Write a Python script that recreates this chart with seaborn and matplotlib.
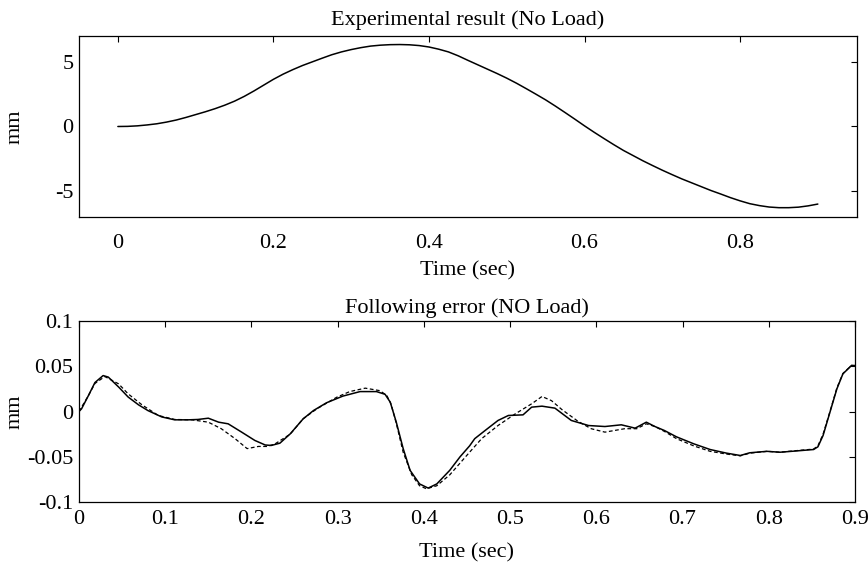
import matplotlib
matplotlib.use("Agg")
import matplotlib.pyplot as plt
import seaborn as sns
import pandas as pd

# ---------------- data ----------------
top_t = [0, 0.0125, 0.025, 0.0375, 0.05, 0.0625, 0.075, 0.0875, 0.1, 0.1125, 0.125, 0.1375,
         0.15, 0.1625, 0.175, 0.1875, 0.2, 0.2125, 0.225, 0.2375, 0.25, 0.2625, 0.275, 0.2875,
         0.3, 0.3125, 0.325, 0.3375, 0.35, 0.3625, 0.375, 0.3875, 0.4, 0.4125, 0.425, 0.4375,
         0.45, 0.4625, 0.475, 0.4875, 0.5, 0.5125, 0.525, 0.5375, 0.55, 0.5625, 0.575, 0.5875,
         0.6, 0.6125, 0.625, 0.6375, 0.65, 0.6625, 0.675, 0.6875, 0.7, 0.7125, 0.725, 0.7375,
         0.75, 0.7625, 0.775, 0.7875, 0.8, 0.8125, 0.825, 0.8375, 0.85, 0.8625, 0.875, 0.8875, 0.9]
top_mm = [0, 0.01, 0.05, 0.12, 0.21, 0.34, 0.5, 0.7, 0.92, 1.14, 1.38, 1.65,
          1.96, 2.33, 2.75, 3.2, 3.65, 4.05, 4.4, 4.72, 5.0, 5.28, 5.55, 5.77,
          5.95, 6.1, 6.22, 6.29, 6.33, 6.34, 6.32, 6.26, 6.15, 5.98, 5.77, 5.47,
          5.12, 4.78, 4.44, 4.1, 3.74, 3.35, 2.93, 2.5, 2.06, 1.58, 1.08, 0.57,
          0.05, -0.45, -0.93, -1.4, -1.85, -2.25, -2.65, -3.02, -3.38, -3.72, -4.05, -4.35,
          -4.65, -4.95, -5.22, -5.5, -5.75, -5.97, -6.12, -6.23, -6.28, -6.28, -6.24, -6.14, -6.0]

solid_t = [0, 0.003, 0.011, 0.0185, 0.028, 0.034, 0.046, 0.057, 0.069, 0.08, 0.096,
           0.111, 0.127, 0.138, 0.15, 0.162, 0.173, 0.189, 0.204, 0.216, 0.223, 0.233,
           0.245, 0.26, 0.272, 0.287, 0.306, 0.326, 0.345, 0.355, 0.361, 0.368, 0.376,
           0.384, 0.395, 0.405, 0.415, 0.43, 0.442, 0.453, 0.459, 0.471, 0.486, 0.498,
           0.515, 0.525, 0.537, 0.552, 0.571, 0.591, 0.61, 0.629, 0.645, 0.658, 0.668,
           0.679, 0.693, 0.713, 0.732, 0.751, 0.767, 0.778, 0.798, 0.813, 0.829, 0.852,
           0.857, 0.863, 0.871, 0.879, 0.886, 0.896, 0.9]
solid_err = [0, 0.003, 0.0177, 0.032, 0.0397, 0.038, 0.027, 0.016, 0.0074, 0.001, -0.006,
             -0.0092, -0.0092, -0.0088, -0.0074, -0.0118, -0.0136, -0.023, -0.032, -0.037, -0.0375, -0.035,
             -0.0247, -0.0081, 0.0011, 0.0096, 0.017, 0.022, 0.022, 0.019, 0.0103, -0.0118, -0.041,
             -0.065, -0.080, -0.0846, -0.080, -0.065, -0.050, -0.038, -0.030, -0.021, -0.0099, -0.0044,
             -0.0037, 0.0048, 0.0059, 0.0037, -0.0099, -0.0155, -0.0166, -0.0147, -0.0184, -0.0118, -0.0166,
             -0.021, -0.028, -0.0357, -0.042, -0.046, -0.0486, -0.0456, -0.044, -0.045, -0.0438, -0.042,
             -0.039, -0.0265, -0.0007, 0.025, 0.0416, 0.0508, 0.0508]

dash_t = [0, 0.011, 0.0185, 0.03, 0.046, 0.057, 0.073, 0.092, 0.111, 0.131, 0.15, 0.165,
          0.181, 0.195, 0.208, 0.218, 0.227, 0.245, 0.26, 0.276, 0.299, 0.314, 0.332, 0.349,
          0.357, 0.362, 0.368, 0.376, 0.386, 0.395, 0.403, 0.415, 0.43, 0.453, 0.467, 0.486,
          0.506, 0.525, 0.537, 0.548, 0.56, 0.579, 0.594, 0.61, 0.633, 0.647, 0.658, 0.668,
          0.679, 0.693, 0.713, 0.732, 0.751, 0.767, 0.778, 0.798, 0.813, 0.829, 0.852, 0.857,
          0.863, 0.871, 0.879, 0.886, 0.896, 0.9]
dash_err = [0, 0.0177, 0.031, 0.0386, 0.0305, 0.0195, 0.0074, -0.0044, -0.0088, -0.0092, -0.0118, -0.019,
            -0.030, -0.041, -0.0386, -0.0386, -0.036, -0.025, -0.008, 0.003, 0.0158, 0.022, 0.0258, 0.023,
            0.0177, 0.008, -0.013, -0.045, -0.070, -0.082, -0.0854, -0.082, -0.07, -0.045, -0.030, -0.0155,
            -0.0026, 0.0085, 0.0166, 0.012, 0.0022, -0.011, -0.019, -0.0228, -0.019, -0.019, -0.0136, -0.0166,
            -0.022, -0.030, -0.038, -0.044, -0.047, -0.049, -0.046, -0.044, -0.045, -0.0435, -0.0415, -0.038,
            -0.025, 0.0, 0.026, 0.042, 0.051, 0.0505]

top_xticks = [0, 0.2, 0.4, 0.6, 0.8]
top_xlabels = ["0", "0.2", "0.4", "0.6", "0.8"]
top_yticks = [-5, 0, 5]
top_ylabels = ["-5", "0", "5"]
bot_xticks = [0, 0.1, 0.2, 0.3, 0.4, 0.5, 0.6, 0.7, 0.8, 0.9]
bot_xlabels = ["0", "0.1", "0.2", "0.3", "0.4", "0.5", "0.6", "0.7", "0.8", "0.9"]
bot_yticks = [-0.1, -0.05, 0, 0.05, 0.1]
bot_ylabels = ["-0.1", "-0.05", "0", "0.05", "0.1"]

# ---------------- style ----------------
sns.set_theme(style="white")
plt.rcParams["font.family"] = ["Liberation Serif", "DejaVu Serif"]
plt.rcParams["axes.unicode_minus"] = False
FS = 16

fig = plt.figure(figsize=(8.68, 5.67), dpi=100)
ax1 = fig.add_axes([0.091, 0.6173, 0.896, 0.3192])
ax2 = fig.add_axes([0.091, 0.1146, 0.894, 0.3193])

df_top = pd.DataFrame({"t": top_t, "mm": top_mm})
sns.lineplot(data=df_top, x="t", y="mm", ax=ax1, color="black", linewidth=1.1)

df_s = pd.DataFrame({"t": solid_t, "e": solid_err})
df_d = pd.DataFrame({"t": dash_t, "e": dash_err})
sns.lineplot(data=df_s, x="t", y="e", ax=ax2, color="black", linewidth=1.1)
sns.lineplot(data=df_d, x="t", y="e", ax=ax2, color="black", linewidth=0.9,
             linestyle=(0, (3, 2)))

def style(ax, xt, xl, yt, yl, xlim, ylim, title, xpad, xlabelpad, titlepad):
    ax.set_xlim(*xlim)
    ax.set_ylim(*ylim)
    ax.set_xticks(xt)
    ax.set_xticklabels(xl)
    ax.set_yticks(yt)
    ax.set_yticklabels(yl)
    ax.tick_params(direction="in", length=4, width=0.8, top=True, right=True,
                   labelsize=FS, colors="black")
    ax.tick_params(axis="x", pad=xpad)
    ax.tick_params(axis="y", pad=4)
    for s in ax.spines.values():
        s.set_color("black")
        s.set_linewidth(0.9)
    ax.set_title(title, fontsize=FS, pad=titlepad, color="black")
    ax.set_xlabel("Time (sec)", fontsize=FS, color="black", labelpad=xlabelpad)
    ax.set_ylabel("mm", fontsize=FS, color="black")
    ax.yaxis.set_label_coords(-0.07, 0.5)

style(ax1, top_xticks, top_xlabels, top_yticks, top_ylabels, (-0.05, 0.95), (-7, 7),
      "Experimental result (No Load)", 12, 6, 8)
style(ax2, bot_xticks, bot_xlabels, bot_yticks, bot_ylabels, (0, 0.9), (-0.1, 0.1),
      "Following error (NO Load)", 6, 10, 6)

fig.savefig("out.png", dpi=100, facecolor="white")
